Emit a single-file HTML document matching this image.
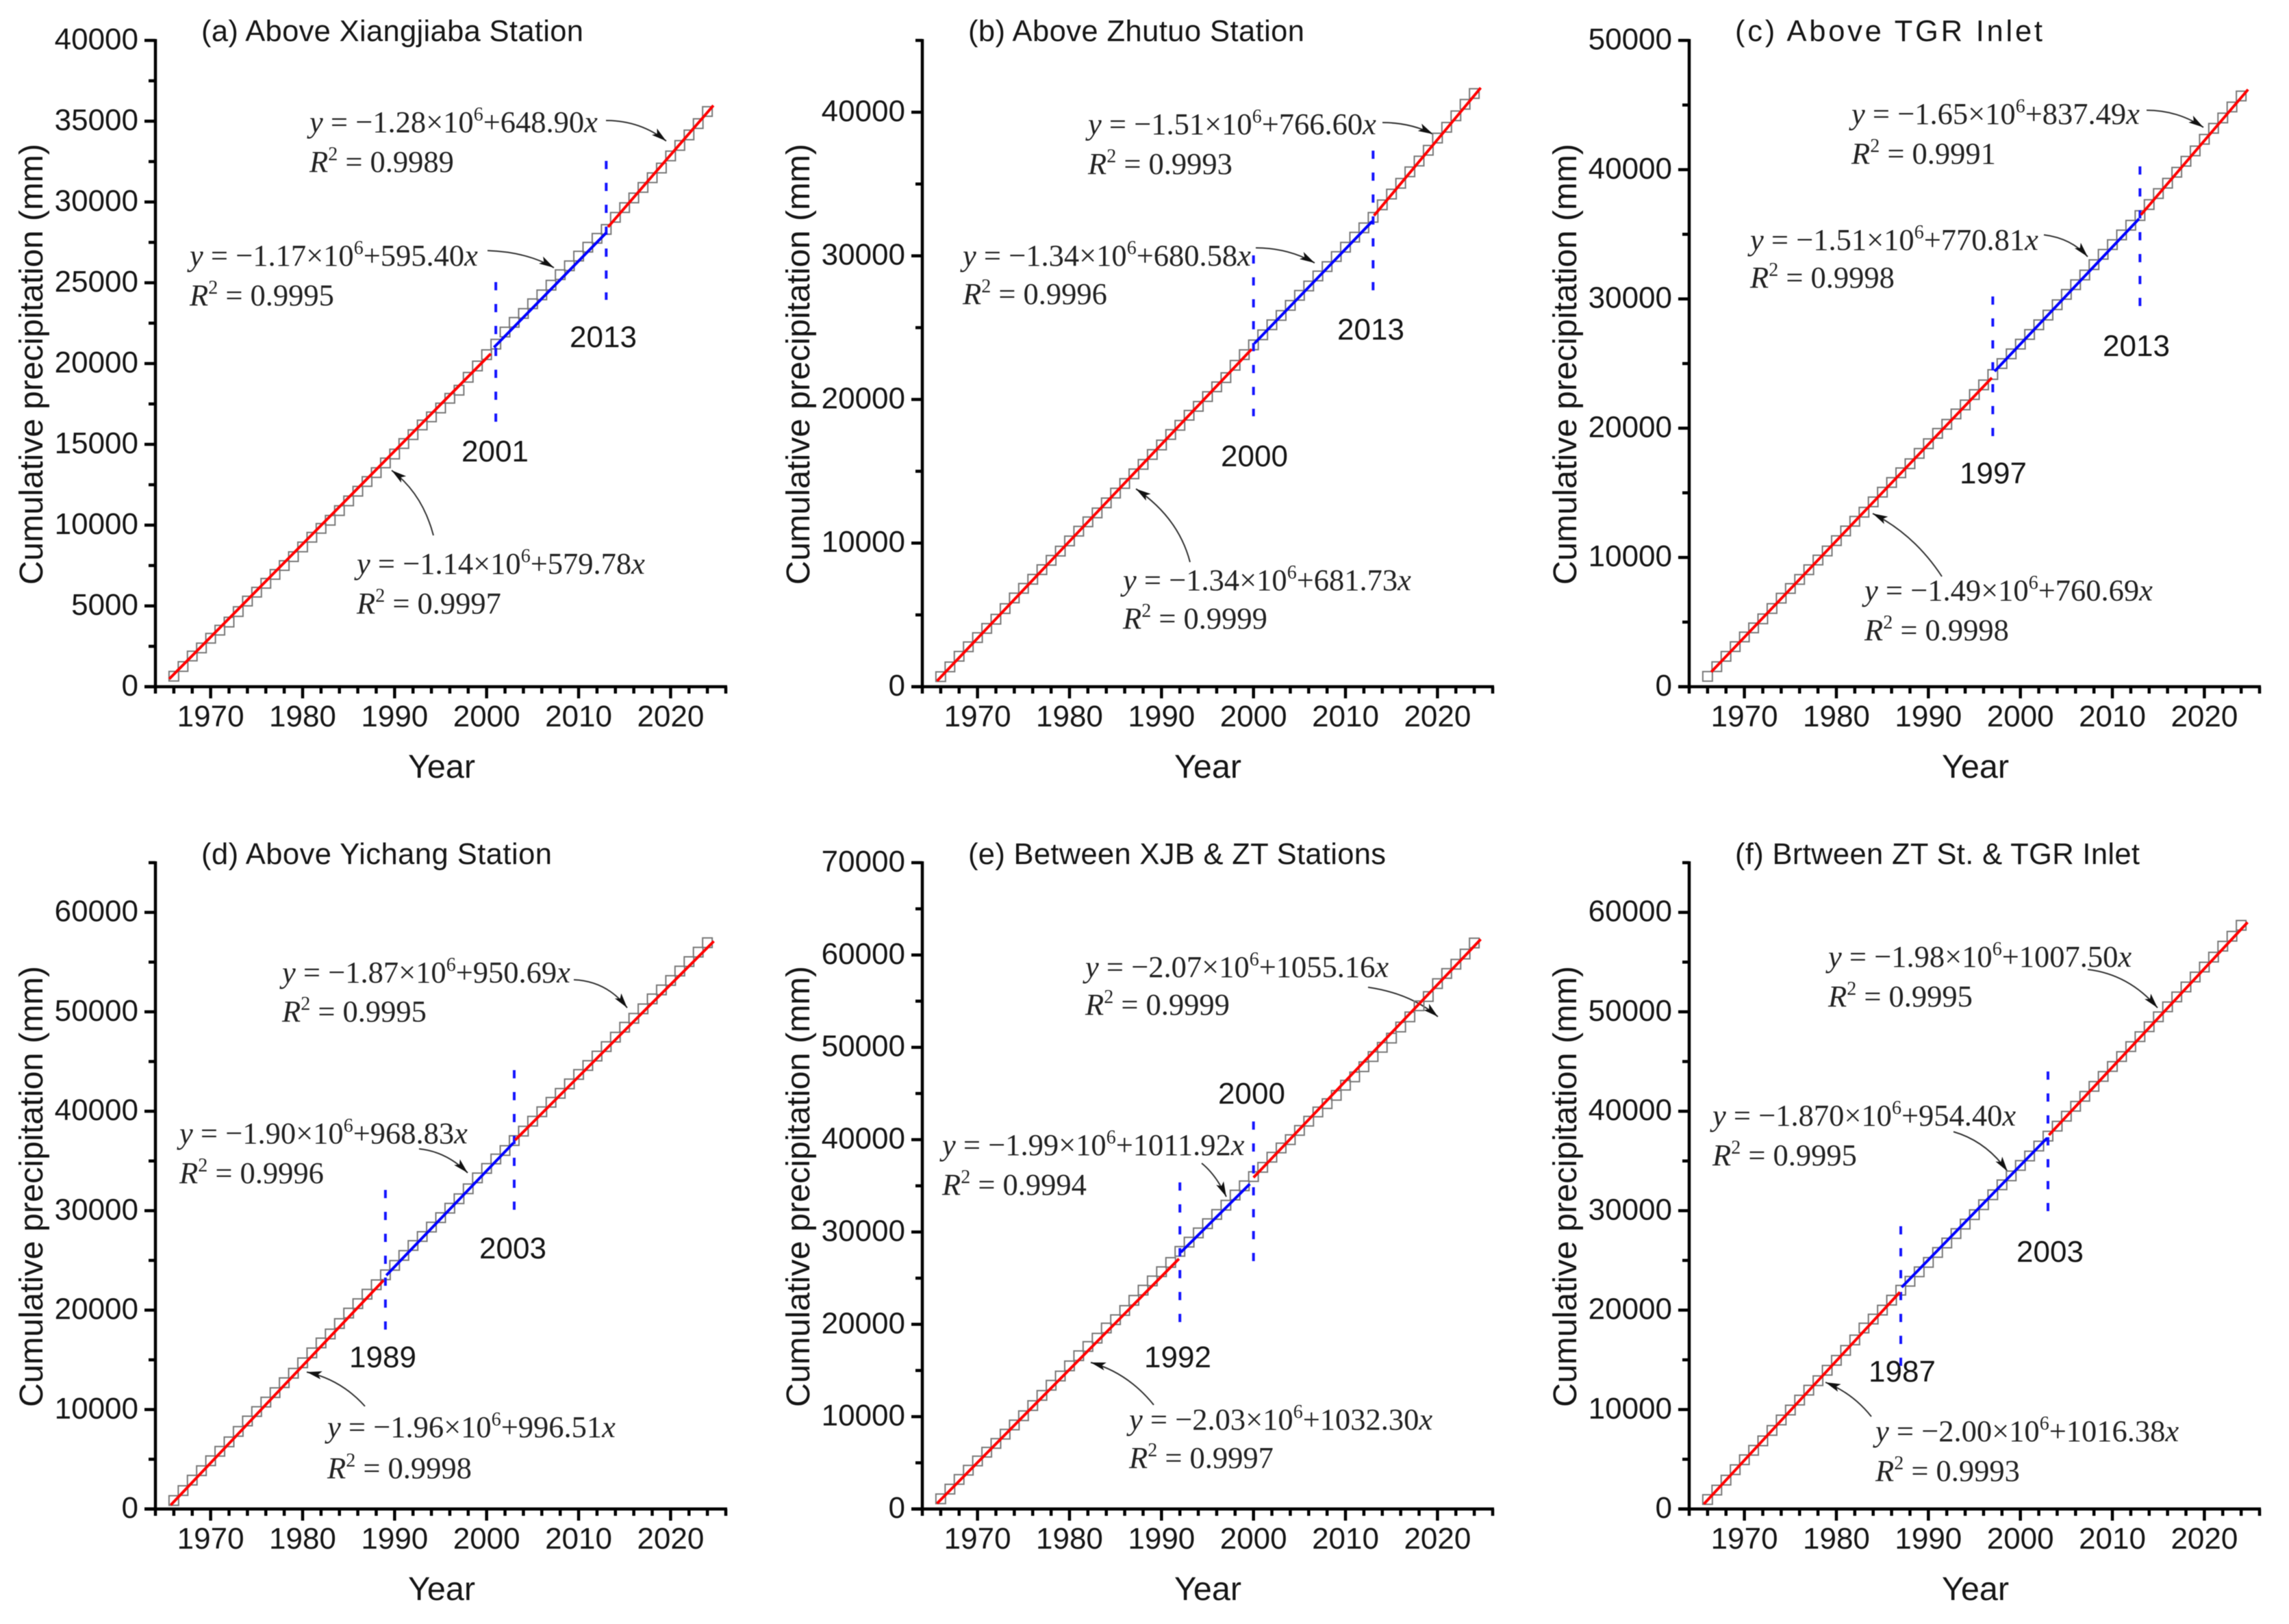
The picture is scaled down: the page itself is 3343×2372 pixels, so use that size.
<!DOCTYPE html>
<html lang="en">
<head>
<meta charset="utf-8">
<title>Cumulative precipitation double-mass curves</title>
<style>
  html,body{margin:0;padding:0;background:#fff;}
  #figure{display:block;width:3343px;height:2372px;filter:blur(0.55px);}
  text{fill:#151515;}
  .sans{font-family:"Liberation Sans",sans-serif;}
  .ttl{font-family:"Liberation Sans",sans-serif;font-size:43.5px;}
  .ax{font-family:"Liberation Sans",sans-serif;font-size:48.5px;text-anchor:middle;}
  .yr{font-family:"Liberation Sans",sans-serif;font-size:44px;text-anchor:middle;}
  .eq{font-family:"Liberation Serif",serif;font-size:44.5px;fill:#222;}
  .i{font-style:italic;}
  .sup{font-size:28px;}
  .arw{fill:none;stroke:#333;stroke-width:2;marker-end:url(#arrow-head);}
</style>
</head>
<body>
<svg id="figure" xmlns="http://www.w3.org/2000/svg" width="3343" height="2372" viewBox="0 0 3343 2372">
<defs>
  <marker id="arrow-head" markerUnits="userSpaceOnUse" markerWidth="24" markerHeight="14" refX="22" refY="7" orient="auto">
    <path d="M0 1 L22 7 L0 13 L5 7 Z" fill="#111"/>
  </marker>
</defs>
<rect width="3343" height="2372" fill="#fff"/>

<!-- Panel a -->
<g>
  <text class="ttl" x="294" y="60" textLength="558">(a) Above Xiangjiaba Station</text>
  <text class="ax" transform="translate(62,532) rotate(-90)">Cumulative precipitation (mm)</text>
  <text class="ax" x="645" y="1136">Year</text>
  <text class="eq" x="452" y="193"><tspan class="i">y</tspan> = −1.28×10<tspan class="sup" dy="-17">6</tspan><tspan dy="17">+648.90</tspan><tspan class="i">x</tspan></text>
  <text class="eq" x="452" y="251"><tspan class="i">R</tspan><tspan class="sup" dy="-17">2</tspan><tspan dy="17"> = 0.9989</tspan></text>
  <text class="eq" x="277" y="388"><tspan class="i">y</tspan> = −1.17×10<tspan class="sup" dy="-17">6</tspan><tspan dy="17">+595.40</tspan><tspan class="i">x</tspan></text>
  <text class="eq" x="277" y="446"><tspan class="i">R</tspan><tspan class="sup" dy="-17">2</tspan><tspan dy="17"> = 0.9995</tspan></text>
  <text class="eq" x="521" y="838"><tspan class="i">y</tspan> = −1.14×10<tspan class="sup" dy="-17">6</tspan><tspan dy="17">+579.78</tspan><tspan class="i">x</tspan></text>
  <text class="eq" x="521" y="896"><tspan class="i">R</tspan><tspan class="sup" dy="-17">2</tspan><tspan dy="17"> = 0.9997</tspan></text>
  <text class="yr" x="723" y="674">2001</text>
  <text class="yr" x="881" y="507">2013</text>
  <path class="arw" d="M885 176 Q935 176 973 206"/>
  <path class="arw" d="M712 366 Q770 368 809 391"/>
  <path class="arw" d="M633 782 Q617 721 572 687"/>
</g>

<!-- Panel b -->
<g>
  <text class="ttl" x="1414" y="60" textLength="491">(b) Above Zhutuo Station</text>
  <text class="ax" transform="translate(1182,532) rotate(-90)">Cumulative precipitation (mm)</text>
  <text class="ax" x="1764" y="1136">Year</text>
  <text class="eq" x="1589" y="196"><tspan class="i">y</tspan> = −1.51×10<tspan class="sup" dy="-17">6</tspan><tspan dy="17">+766.60</tspan><tspan class="i">x</tspan></text>
  <text class="eq" x="1589" y="254"><tspan class="i">R</tspan><tspan class="sup" dy="-17">2</tspan><tspan dy="17"> = 0.9993</tspan></text>
  <text class="eq" x="1406" y="388"><tspan class="i">y</tspan> = −1.34×10<tspan class="sup" dy="-17">6</tspan><tspan dy="17">+680.58</tspan><tspan class="i">x</tspan></text>
  <text class="eq" x="1406" y="444"><tspan class="i">R</tspan><tspan class="sup" dy="-17">2</tspan><tspan dy="17"> = 0.9996</tspan></text>
  <text class="eq" x="1640" y="862"><tspan class="i">y</tspan> = −1.34×10<tspan class="sup" dy="-17">6</tspan><tspan dy="17">+681.73</tspan><tspan class="i">x</tspan></text>
  <text class="eq" x="1640" y="918"><tspan class="i">R</tspan><tspan class="sup" dy="-17">2</tspan><tspan dy="17"> = 0.9999</tspan></text>
  <text class="yr" x="1832" y="681">2000</text>
  <text class="yr" x="2002" y="496">2013</text>
  <path class="arw" d="M2019 179 Q2060 179 2093 196"/>
  <path class="arw" d="M1834 362 Q1881 362 1920 384"/>
  <path class="arw" d="M1738 821 Q1721 756 1659 714"/>
</g>

<!-- Panel c -->
<g>
  <text class="ttl" x="2534" y="60" textLength="449">(c) Above TGR Inlet</text>
  <text class="ax" transform="translate(2302,532) rotate(-90)">Cumulative precipitation (mm)</text>
  <text class="ax" x="2885" y="1136">Year</text>
  <text class="eq" x="2704" y="181"><tspan class="i">y</tspan> = −1.65×10<tspan class="sup" dy="-17">6</tspan><tspan dy="17">+837.49</tspan><tspan class="i">x</tspan></text>
  <text class="eq" x="2704" y="239"><tspan class="i">R</tspan><tspan class="sup" dy="-17">2</tspan><tspan dy="17"> = 0.9991</tspan></text>
  <text class="eq" x="2556" y="365"><tspan class="i">y</tspan> = −1.51×10<tspan class="sup" dy="-17">6</tspan><tspan dy="17">+770.81</tspan><tspan class="i">x</tspan></text>
  <text class="eq" x="2556" y="420"><tspan class="i">R</tspan><tspan class="sup" dy="-17">2</tspan><tspan dy="17"> = 0.9998</tspan></text>
  <text class="eq" x="2723" y="877"><tspan class="i">y</tspan> = −1.49×10<tspan class="sup" dy="-17">6</tspan><tspan dy="17">+760.69</tspan><tspan class="i">x</tspan></text>
  <text class="eq" x="2723" y="935"><tspan class="i">R</tspan><tspan class="sup" dy="-17">2</tspan><tspan dy="17"> = 0.9998</tspan></text>
  <text class="yr" x="2911" y="706">1997</text>
  <text class="yr" x="3120" y="520">2013</text>
  <path class="arw" d="M3135 161 Q3180 161 3218 186"/>
  <path class="arw" d="M2985 343 Q3025 348 3049 375"/>
  <path class="arw" d="M2836 842 Q2796 781 2735 750"/>
</g>

<!-- Panel d -->
<g>
  <text class="ttl" x="294" y="1262" textLength="512">(d) Above Yichang Station</text>
  <text class="ax" transform="translate(62,1733) rotate(-90)">Cumulative precipitation (mm)</text>
  <text class="ax" x="645" y="2337">Year</text>
  <text class="eq" x="412" y="1435"><tspan class="i">y</tspan> = −1.87×10<tspan class="sup" dy="-17">6</tspan><tspan dy="17">+950.69</tspan><tspan class="i">x</tspan></text>
  <text class="eq" x="412" y="1492"><tspan class="i">R</tspan><tspan class="sup" dy="-17">2</tspan><tspan dy="17"> = 0.9995</tspan></text>
  <text class="eq" x="262" y="1670"><tspan class="i">y</tspan> = −1.90×10<tspan class="sup" dy="-17">6</tspan><tspan dy="17">+968.83</tspan><tspan class="i">x</tspan></text>
  <text class="eq" x="262" y="1728"><tspan class="i">R</tspan><tspan class="sup" dy="-17">2</tspan><tspan dy="17"> = 0.9996</tspan></text>
  <text class="eq" x="478" y="2099"><tspan class="i">y</tspan> = −1.96×10<tspan class="sup" dy="-17">6</tspan><tspan dy="17">+996.51</tspan><tspan class="i">x</tspan></text>
  <text class="eq" x="478" y="2159"><tspan class="i">R</tspan><tspan class="sup" dy="-17">2</tspan><tspan dy="17"> = 0.9998</tspan></text>
  <text class="yr" x="559" y="1997">1989</text>
  <text class="yr" x="749" y="1838">2003</text>
  <path class="arw" d="M838 1431 Q886 1433 916 1472"/>
  <path class="arw" d="M612 1678 Q652 1682 683 1713"/>
  <path class="arw" d="M533 2054 Q498 2015 448 2004"/>
</g>

<!-- Panel e -->
<g>
  <text class="ttl" x="1414" y="1262" textLength="610">(e) Between XJB &amp; ZT Stations</text>
  <text class="ax" transform="translate(1182,1733) rotate(-90)">Cumulative precipitation (mm)</text>
  <text class="ax" x="1764" y="2337">Year</text>
  <text class="eq" x="1585" y="1427"><tspan class="i">y</tspan> = −2.07×10<tspan class="sup" dy="-17">6</tspan><tspan dy="17">+1055.16</tspan><tspan class="i">x</tspan></text>
  <text class="eq" x="1585" y="1482"><tspan class="i">R</tspan><tspan class="sup" dy="-17">2</tspan><tspan dy="17"> = 0.9999</tspan></text>
  <text class="eq" x="1376" y="1687"><tspan class="i">y</tspan> = −1.99×10<tspan class="sup" dy="-17">6</tspan><tspan dy="17">+1011.92</tspan><tspan class="i">x</tspan></text>
  <text class="eq" x="1376" y="1745"><tspan class="i">R</tspan><tspan class="sup" dy="-17">2</tspan><tspan dy="17"> = 0.9994</tspan></text>
  <text class="eq" x="1649" y="2088"><tspan class="i">y</tspan> = −2.03×10<tspan class="sup" dy="-17">6</tspan><tspan dy="17">+1032.30</tspan><tspan class="i">x</tspan></text>
  <text class="eq" x="1649" y="2144"><tspan class="i">R</tspan><tspan class="sup" dy="-17">2</tspan><tspan dy="17"> = 0.9997</tspan></text>
  <text class="yr" x="1720" y="1997">1992</text>
  <text class="yr" x="1828" y="1612">2000</text>
  <path class="arw" d="M1998 1442 Q2060 1451 2100 1485"/>
  <path class="arw" d="M1755 1699 Q1776 1716 1791 1748"/>
  <path class="arw" d="M1685 2052 Q1647 2005 1593 1990"/>
</g>

<!-- Panel f -->
<g>
  <text class="ttl" x="2534" y="1262" textLength="591">(f) Brtween ZT St. &amp; TGR Inlet</text>
  <text class="ax" transform="translate(2302,1733) rotate(-90)">Cumulative precipitation (mm)</text>
  <text class="ax" x="2885" y="2337">Year</text>
  <text class="eq" x="2670" y="1412"><tspan class="i">y</tspan> = −1.98×10<tspan class="sup" dy="-17">6</tspan><tspan dy="17">+1007.50</tspan><tspan class="i">x</tspan></text>
  <text class="eq" x="2670" y="1470"><tspan class="i">R</tspan><tspan class="sup" dy="-17">2</tspan><tspan dy="17"> = 0.9995</tspan></text>
  <text class="eq" x="2501" y="1644"><tspan class="i">y</tspan> = −1.870×10<tspan class="sup" dy="-17">6</tspan><tspan dy="17">+954.40</tspan><tspan class="i">x</tspan></text>
  <text class="eq" x="2501" y="1702"><tspan class="i">R</tspan><tspan class="sup" dy="-17">2</tspan><tspan dy="17"> = 0.9995</tspan></text>
  <text class="eq" x="2739" y="2105"><tspan class="i">y</tspan> = −2.00×10<tspan class="sup" dy="-17">6</tspan><tspan dy="17">+1016.38</tspan><tspan class="i">x</tspan></text>
  <text class="eq" x="2739" y="2163"><tspan class="i">R</tspan><tspan class="sup" dy="-17">2</tspan><tspan dy="17"> = 0.9993</tspan></text>
  <text class="yr" x="2778" y="2018">1987</text>
  <text class="yr" x="2994" y="1843">2003</text>
  <path class="arw" d="M3049 1416 Q3109 1423 3151 1472"/>
  <path class="arw" d="M2853 1653 Q2901 1667 2932 1711"/>
  <path class="arw" d="M2733 2069 Q2706 2035 2666 2019"/>
</g>
</svg>

<script>
// ---------- categories ----------
const years = [1966,1967,1968,1969,1970,1971,1972,1973,1974,1975,1976,1977,1978,1979,1980,1981,1982,1983,1984,1985,1986,1987,1988,1989,1990,1991,1992,1993,1994,1995,1996,1997,1998,1999,2000,2001,2002,2003,2004,2005,2006,2007,2008,2009,2010,2011,2012,2013,2014,2015,2016,2017,2018,2019,2020,2021,2022,2023,2024];
const xTickLabels = [1970,1980,1990,2000,2010,2020];

// ---------- cumulative precipitation series (mm) ----------
const seriesA = [650,1250,1900,2400,3000,3500,4000,4650,5300,5850,6400,6950,7500,8050,8650,9250,9800,10300,10900,11500,12100,12700,13250,13850,14400,15050,15600,16200,16700,17250,17850,18350,19150,19850,20550,21200,21950,22550,23100,23700,24250,24850,25500,26050,26650,27200,27750,28300,29050,29650,30250,30900,31500,32100,32850,33500,34150,34850,35600];
const seriesB = [700,1380,2120,2780,3420,4060,4700,5440,6180,6850,7480,8150,8800,9440,10150,10830,11480,12100,12800,13480,14150,14820,15480,16170,16830,17560,18200,18900,19520,20200,20880,21520,22380,23120,23800,24500,25200,25850,26550,27250,27900,28600,29250,29950,30600,31300,31950,32680,33550,34300,35050,35850,36600,37350,38200,38950,39750,40550,41300];
const seriesC = [800,1550,2350,3100,3850,4550,5250,6050,6850,7600,8300,9050,9800,10500,11300,12050,12800,13500,14300,15050,15800,16550,17250,18050,18800,19600,20300,21100,21800,22600,23350,24150,25000,25750,26500,27250,28000,28750,29550,30350,31100,31850,32650,33450,34200,34950,35700,36450,37300,38150,38950,39800,40650,41450,42350,43200,44000,44850,45700];
const seriesD = [850,1850,2900,3850,4850,5800,6750,7800,8850,9800,10750,11700,12700,13650,14700,15700,16700,17600,18650,19700,20650,21600,22550,23550,24500,25500,26500,27400,28350,29300,30250,31200,32200,33300,34250,35200,36050,37050,38000,39000,39950,40900,41800,42750,43700,44600,45550,46500,47450,48450,49350,50300,51300,52200,53150,54100,55050,56000,56950];
const seriesE = [1100,2150,3200,4200,5200,6150,7100,8100,9100,10100,11200,12300,13400,14400,15500,16600,17600,18500,19600,20500,21500,22600,23700,24700,25700,26700,27900,28900,29900,30900,31900,32900,34000,35000,36000,37000,38100,39100,40000,41000,42000,43000,43900,44800,45900,46800,47900,49000,50000,51000,52200,53300,54500,55500,56900,58000,59000,60100,61300];
const seriesF = [950,1900,2900,3950,4950,5900,6850,7900,8950,9950,10950,11950,12900,13950,14950,15950,17000,18200,19100,20000,21000,22000,22900,23850,24800,25800,26750,27700,28650,29600,30600,31600,32600,33500,34550,35500,36500,37500,38500,39500,40500,41500,42500,43500,44500,45500,46500,47500,48500,49500,50500,51500,52500,53500,54500,55500,56600,57600,58700];

// ---------- y tick labels ----------
const yTicksA = [0,5000,10000,15000,20000,25000,30000,35000,40000];
const yTicksB = [0,10000,20000,30000,40000];
const yTicksC = [0,10000,20000,30000,40000,50000];
const yTicksD = [0,10000,20000,30000,40000,50000,60000];
const yTicksE = [0,10000,20000,30000,40000,50000,60000,70000];
const yTicksF = [0,10000,20000,30000,40000,50000,60000];

// ---------- fitted segments: year and value at each end ----------
const fitStartYearsA = [1965.5,2000.8,2013.2];
const fitEndYearsA = [2000.45,2013,2024.65];
const fitStartValuesA = [480,21000,28450];
const fitEndValuesA = [20606,28090,35970];

const fitStartYearsB = [1965.6,2000.1,2013.1];
const fitEndYearsB = [1999.8,2012.9,2024.7];
const fitStartValuesB = [400,23900,32800];
const fitEndValuesB = [23500,32400,41700];

const fitStartYearsC = [1966.4,1997.2,2013.1];
const fitEndYearsC = [1996.9,2012.9,2024.75];
const fitStartValuesC = [1144,24400,36500];
const fitEndValuesC = [23900,36200,46200];

const fitStartYearsD = [1965.66,1989.1,2003.1];
const fitEndYearsD = [1988.8,2002.9,2024.7];
const fitStartValuesD = [392,23500,37100];
const fitEndValuesD = [23000,36800,57100];

const fitStartYearsE = [1965.6,1992.1,2000];
const fitEndYearsE = [1991.9,1999.6,2024.7];
const fitStartValuesE = [600,27800,35900];
const fitEndValuesE = [27100,35200,61700];

const fitStartYearsF = [1965.6,1987.1,2003.1];
const fitEndYearsF = [1986.9,2002.9,2024.7];
const fitStartValuesF = [500,22300,37600];
const fitEndValuesF = [21800,37300,59000];

// ---------- change-point years ----------
const breakYearsA = [2001,2013];
const breakYearsB = [2000,2013];
const breakYearsC = [1997,2013];
const breakYearsD = [1989,2003];
const breakYearsE = [1992,2000];
const breakYearsF = [1987,2003];

// ---------- axis ranges ----------
const xMin = 1964;
const xMax = 2026;
const yMaxes = {a:40000,b:45000,c:50000,d:65000,e:70000,f:65000};
const yMinorSteps = {a:2500,b:5000,c:5000,d:5000,e:5000,f:5000};

// ---------- layout, separate from the data ----------
const SVGNS = 'http://www.w3.org/2000/svg';
const figure = document.getElementById('figure');
const layouts = [
  {id:'a',left:227,top:59,bottom:1003,series:seriesA,yTicks:yTicksA,fs:fitStartYearsA,fe:fitEndYearsA,vs:fitStartValuesA,ve:fitEndValuesA,br:breakYearsA,dash:[[412,618],[235,438]]},
  {id:'b',left:1347,top:59,bottom:1003,series:seriesB,yTicks:yTicksB,fs:fitStartYearsB,fe:fitEndYearsB,vs:fitStartValuesB,ve:fitEndValuesB,br:breakYearsB,dash:[[373,608],[220,427]]},
  {id:'c',left:2467,top:59,bottom:1003,series:seriesC,yTicks:yTicksC,fs:fitStartYearsC,fe:fitEndYearsC,vs:fitStartValuesC,ve:fitEndValuesC,br:breakYearsC,dash:[[433,640],[243,452]]},
  {id:'d',left:227,top:1260,bottom:2204,series:seriesD,yTicks:yTicksD,fs:fitStartYearsD,fe:fitEndYearsD,vs:fitStartValuesD,ve:fitEndValuesD,br:breakYearsD,dash:[[1738,1945],[1563,1770]]},
  {id:'e',left:1347,top:1260,bottom:2204,series:seriesE,yTicks:yTicksE,fs:fitStartYearsE,fe:fitEndYearsE,vs:fitStartValuesE,ve:fitEndValuesE,br:breakYearsE,dash:[[1727,1936],[1638,1845]]},
  {id:'f',left:2467,top:1260,bottom:2204,series:seriesF,yTicks:yTicksF,fs:fitStartYearsF,fe:fitEndYearsF,vs:fitStartValuesF,ve:fitEndValuesF,br:breakYearsF,dash:[[1791,1998],[1565,1770]]}
];
const PLOT_WIDTH = 833;

function make(tag, attrs, parent) {
  const node = document.createElementNS(SVGNS, tag);
  for (const k in attrs) node.setAttribute(k, attrs[k]);
  parent.appendChild(node);
  return node;
}

function drawPanel(p) {
  const xs = function (year) { return p.left + (year - xMin) / (xMax - xMin) * PLOT_WIDTH; };
  const ys = function (v) { return p.bottom - v / yMaxes[p.id] * (p.bottom - p.top); };

  const g = make('g', {}, figure);
  
  

  // data points
  years.forEach(function (yr, i) {
    const s = make('rect', {x: xs(yr) - 7, y: ys(p.series[i]) - 7, width: 14, height: 14, fill: 'none', stroke: '#777', 'stroke-width': 2}, g);
    
    
  });

  // change-point dashed lines
  p.br.forEach(function (yr, i) {
    const d = make('line', {x1: xs(yr), x2: xs(yr), y1: p.dash[i][0], y2: p.dash[i][1], stroke: '#1414ff', 'stroke-width': 4, 'stroke-dasharray': '12 20'}, g);
    
    
  });

  // fitted segments
  p.fs.forEach(function (start, i) {
    const l = make('line', {x1: xs(start), y1: ys(p.vs[i]), x2: xs(p.fe[i]), y2: ys(p.ve[i]), stroke: i === 1 ? '#0000ff' : '#ff0000', 'stroke-width': 4}, g);
    
    
  });

  // axes
  const yAxis = make('line', {x1: p.left, x2: p.left, y1: p.top - 2, y2: p.bottom + 2, stroke: '#000', 'stroke-width': 4.5}, g);
  
  
  const xAxis = make('line', {x1: p.left - 16, x2: p.left + PLOT_WIDTH + 2, y1: p.bottom, y2: p.bottom, stroke: '#000', 'stroke-width': 4.5}, g);
  
  

  // x ticks every two years
  for (let yr = xMin; yr <= xMax; yr += 2) {
    const major = xTickLabels.indexOf(yr) >= 0;
    const t = make('line', {x1: xs(yr), x2: xs(yr), y1: p.bottom, y2: p.bottom + (major ? 17 : 10), stroke: '#000', 'stroke-width': 4.5}, g);
    
    
  }
  xTickLabels.forEach(function (yr) {
    const t = make('text', {x: xs(yr), y: p.bottom + 58, 'text-anchor': 'middle', 'font-size': 44, class: 'sans'}, g);
    t.textContent = String(yr);
    
    
  });

  // y ticks
  for (let v = 0; v <= yMaxes[p.id]; v += yMinorSteps[p.id]) {
    const major = p.yTicks.indexOf(v) >= 0;
    const t = make('line', {x1: p.left - (major ? 16 : 10), x2: p.left, y1: ys(v), y2: ys(v), stroke: '#000', 'stroke-width': 4.5}, g);
    
    
  }
  p.yTicks.forEach(function (v) {
    const t = make('text', {x: p.left - 25, y: ys(v) + 13, 'text-anchor': 'end', 'font-size': 44, class: 'sans'}, g);
    t.textContent = String(v);
    
    
  });
}

layouts.forEach(drawPanel);
</script>
</body>
</html>
